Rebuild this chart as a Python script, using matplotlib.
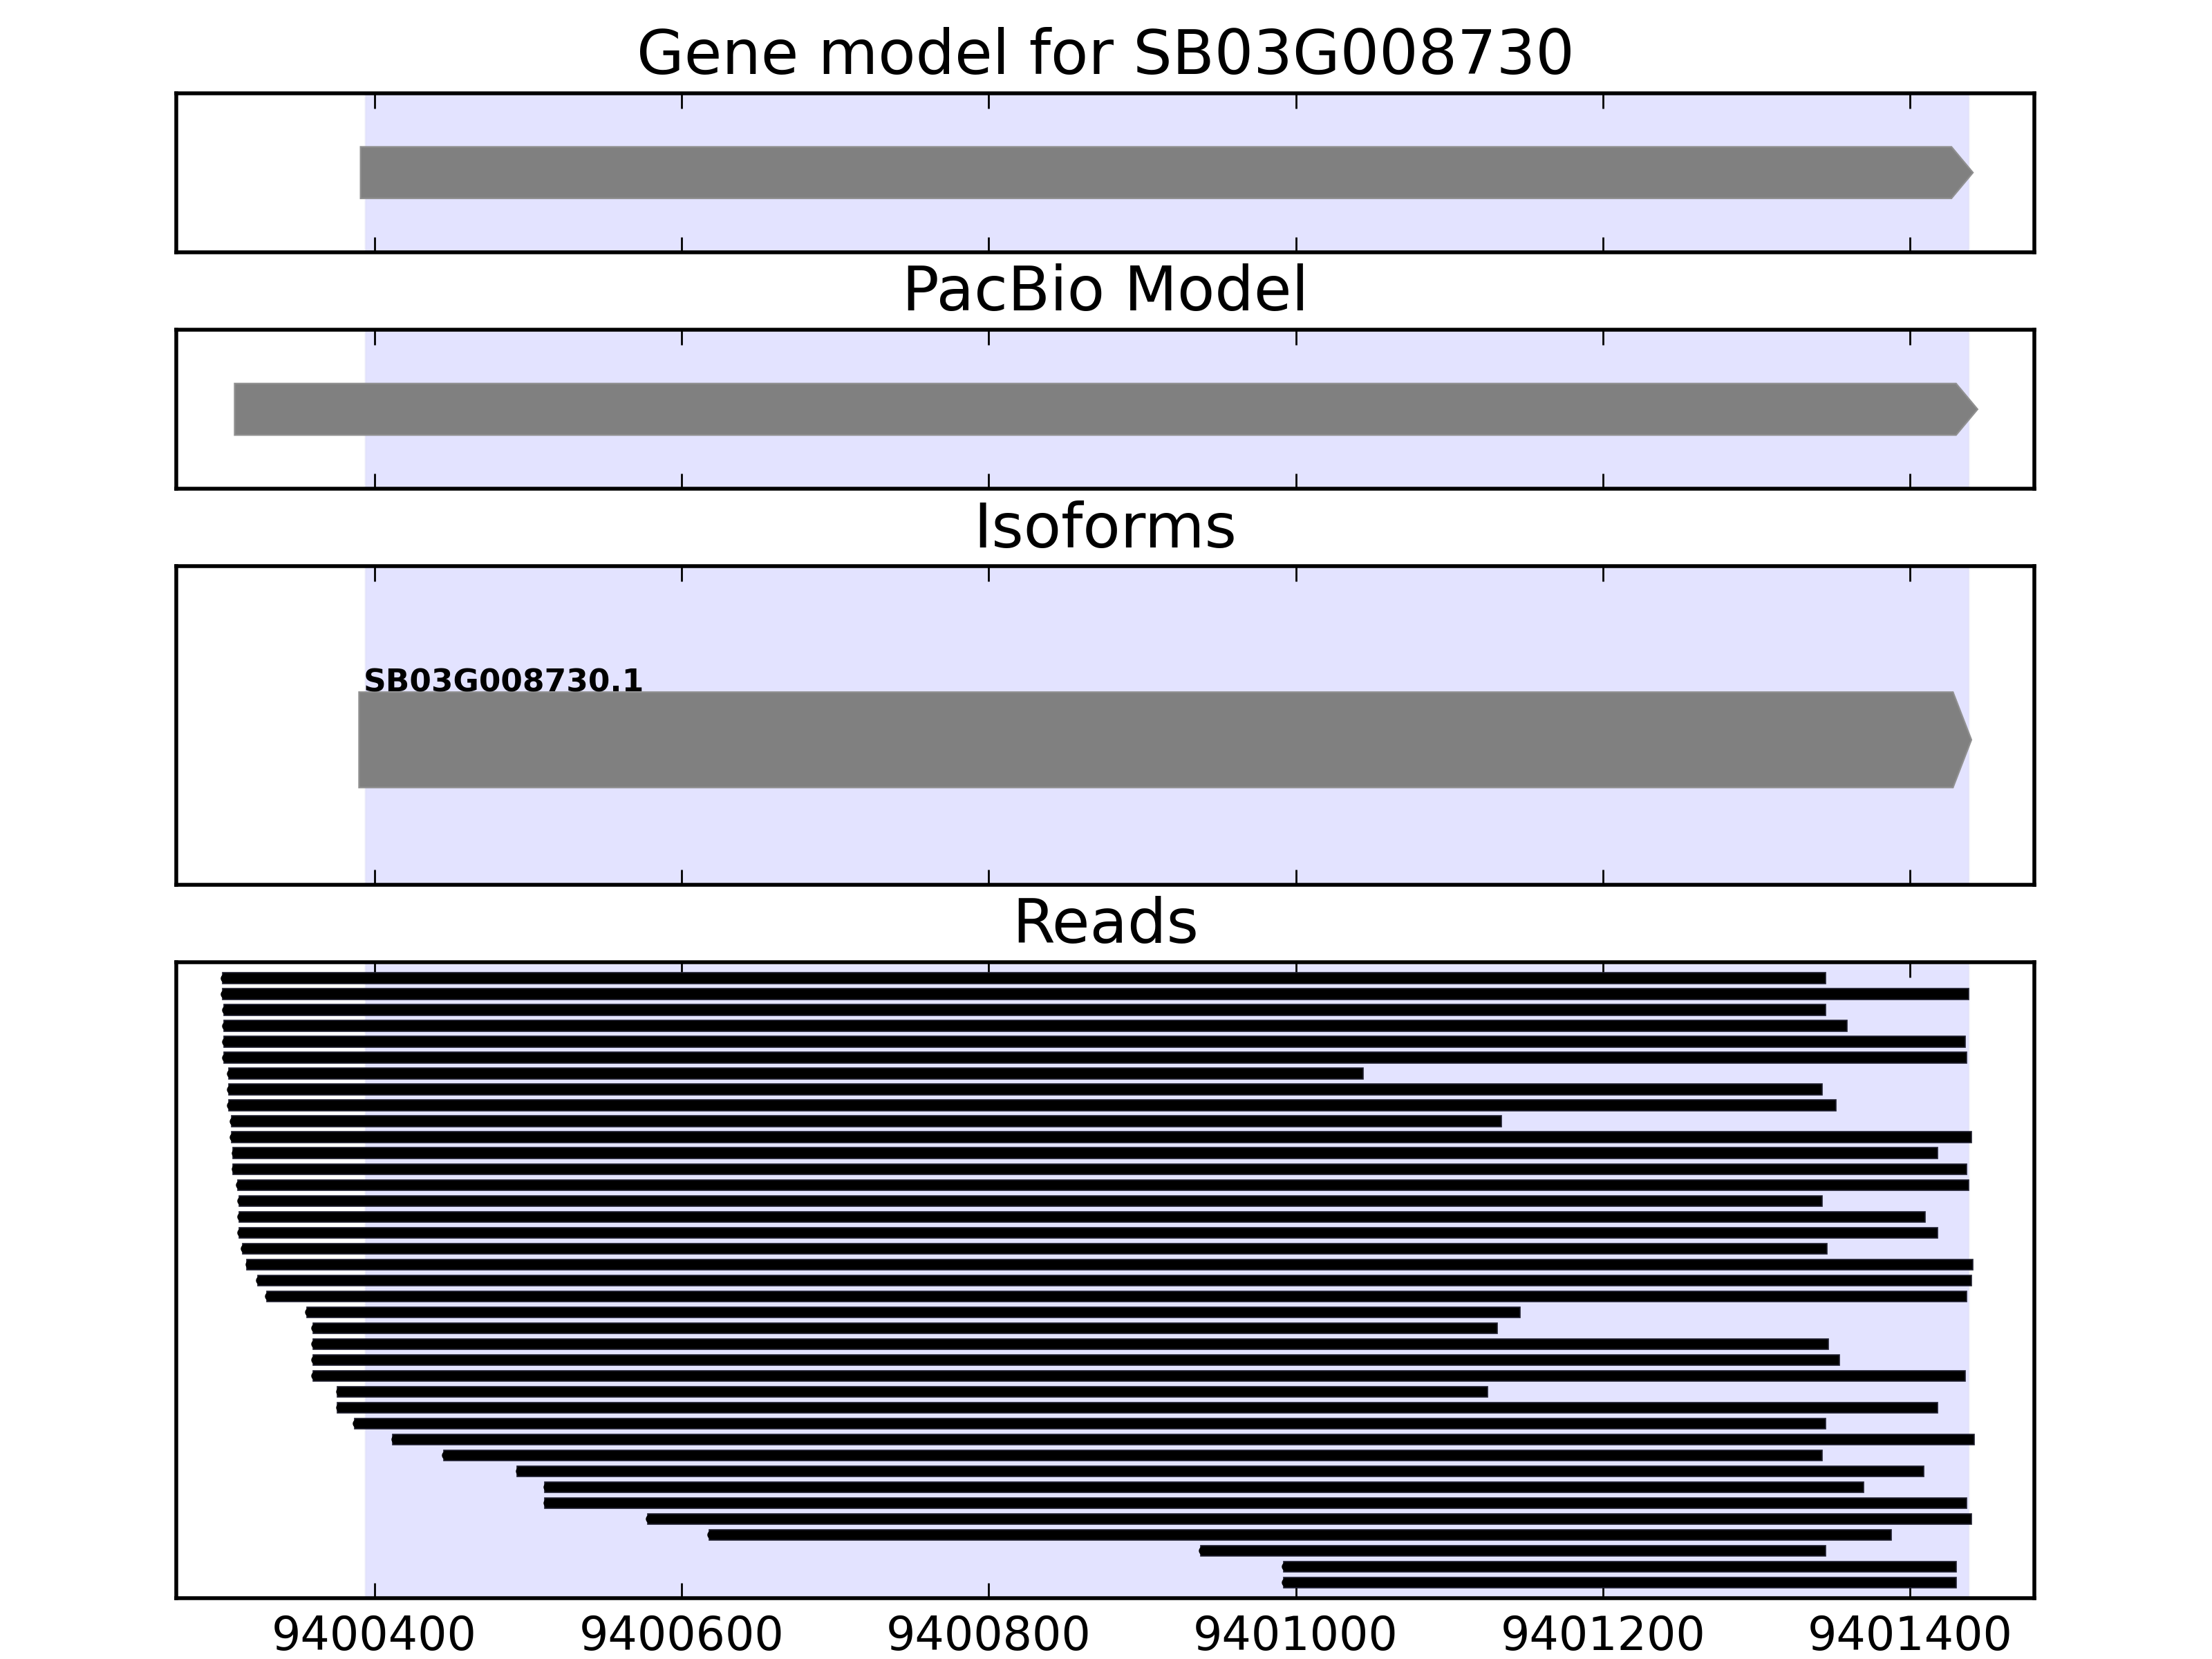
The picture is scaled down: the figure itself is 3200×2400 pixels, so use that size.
import numpy as np
import matplotlib
matplotlib.use("Agg")
import matplotlib.pyplot as plt
from matplotlib.patches import Polygon
from matplotlib.ticker import ScalarFormatter

gene_name = "SB03G008730"
isoform_name = "SB03G008730.1"

# gene region (shaded)
region_start, region_end = 9400394, 9401438

# models: start, arrow tip, head length
gene_model = (9400391, 9401441, 14)
pacbio_model = (9400309, 9401444, 14)
isoform_model = (9400390, 9401440, 12)

read_starts = [9400301, 9400301, 9400302, 9400302, 9400302, 9400302, 9400305, 9400305,
               9400305, 9400307, 9400307, 9400308, 9400308, 9400311, 9400312, 9400312,
               9400312, 9400314, 9400317, 9400324, 9400330, 9400356, 9400360, 9400360,
               9400360, 9400360, 9400376, 9400376, 9400387, 9400412, 9400445, 9400493,
               9400511, 9400511, 9400578, 9400618, 9400938, 9400992, 9400992]
read_ends = [9401345, 9401438, 9401345, 9401359, 9401436, 9401437, 9401044, 9401343,
             9401352, 9401134, 9401440, 9401418, 9401437, 9401438, 9401343, 9401410,
             9401418, 9401346, 9401441, 9401440, 9401437, 9401146, 9401131, 9401347,
             9401354, 9401436, 9401125, 9401418, 9401345, 9401442, 9401343, 9401409,
             9401370, 9401437, 9401440, 9401388, 9401345, 9401430, 9401430]

xticks = [9400400, 9400600, 9400800, 9401000, 9401200, 9401400]
xmin, xmax = 9400271, 9401481

plt.style.use('classic')
plt.rcParams['savefig.facecolor'] = 'white'
plt.rcParams['figure.facecolor'] = 'white'
plt.rcParams['font.family'] = 'DejaVu Sans'


def draw_arrow(ax, model, yc, half):
    start, tip, head = model
    sh = tip - head
    pts = [(start, yc - half), (sh, yc - half), (tip, yc), (sh, yc + half), (start, yc + half)]
    ax.add_patch(Polygon(pts, closed=True, facecolor='gray', edgecolor='#909090',
                         lw=0.4, zorder=3))


fig = plt.figure(figsize=(8, 6), dpi=400)
gs = fig.add_gridspec(4, 1, height_ratios=[1, 1, 2, 4], left=0.0797, right=0.9197,
                      top=0.9439, bottom=0.0365, hspace=0.244)
axes = [fig.add_subplot(gs[i]) for i in range(4)]
titles = ["Gene model for %s" % gene_name, "PacBio Model", "Isoforms", "Reads"]

for ax, t in zip(axes, titles):
    ax.axvspan(region_start, region_end, facecolor='blue', edgecolor='#c8c8dc',
               alpha=0.11, lw=0.6, zorder=0)
    ax.set_xlim(xmin, xmax)
    ax.set_xticks(xticks)
    ax.set_yticks([])
    ax.set_title(t, fontsize=16)
    ax.tick_params(axis='x', direction='in', top=True, bottom=True, length=4, labelsize=12)
    fmt = ScalarFormatter(useOffset=False)
    fmt.set_scientific(False)
    ax.xaxis.set_major_formatter(fmt)
    for s in ax.spines.values():
        s.set_linewidth(1.0)
        s.set_zorder(5)

for ax in axes[:3]:
    ax.tick_params(labelbottom=False)

# gene model / pacbio model
for ax, m in zip(axes[:2], [gene_model, pacbio_model]):
    ax.set_ylim(0, 1)
    draw_arrow(ax, m, 0.5, 0.162)

# isoforms
axes[2].set_ylim(0, 1)
draw_arrow(axes[2], isoform_model, 0.455, 0.15)
axes[2].text(isoform_model[0] + 3, 0.607, isoform_name, fontsize=8.2, fontweight='bold',
             ha='left', va='baseline', zorder=4)

# reads
ax = axes[3]
ypos = np.arange(1, len(read_starts) + 1)
widths = np.array(read_ends) - np.array(read_starts)
ax.barh(ypos, widths, left=read_starts, height=0.66, color='black',
        edgecolor='#202030', lw=0.3, align='center', zorder=3)
# small rounded caps at the read starts
ax.scatter(np.array(read_starts) + 1.5, ypos, s=5, marker='o', color='black',
           linewidths=0, zorder=3)
ax.set_ylim(len(read_starts) + 1, 0)

fig.savefig("out.png", dpi=400)
